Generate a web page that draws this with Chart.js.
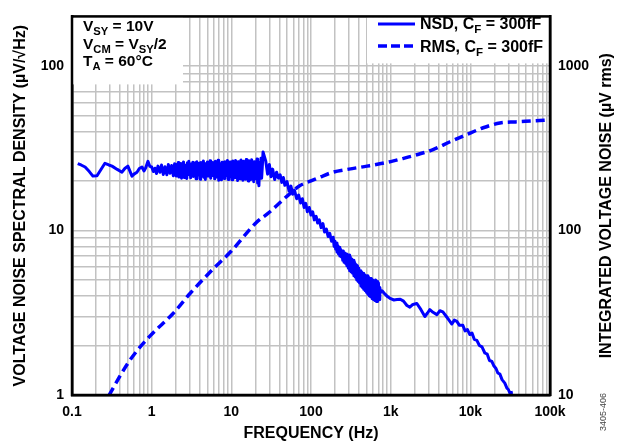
<!DOCTYPE html>
<html>
<head>
<meta charset="utf-8">
<script src="https://cdn.jsdelivr.net/npm/chart.js@4.4.1/dist/chart.umd.min.js"></script>
<style>
  html, body { margin: 0; padding: 0; background: #ffffff; }
  #wrap { width: 621px; height: 442px; }
</style>
</head>
<body>
<div id="wrap"><canvas id="c" width="621" height="442"></canvas></div>
<script>
// ---------------- DATA ----------------
const nsdFreq = [
  0.118, 0.13, 0.146, 0.165, 0.183, 0.206, 0.23, 0.259, 0.29, 0.318, 0.37, 0.424, 0.46, 0.503, 0.566, 0.6, 0.654, 0.7, 0.756, 0.8, 0.84, 0.898, 0.95,
  1.0, 1.05, 1.1, 1.15, 1.2, 1.27, 1.33, 1.4, 1.47, 1.55, 1.62, 1.7, 1.78, 1.87, 1.94,
  2.00, 2.04, 2.08, 2.12, 2.16, 2.20, 2.24, 2.28, 2.32, 2.37,
  2.41, 2.46, 2.51, 2.55, 2.60, 2.65, 2.70, 2.76, 2.81, 2.86,
  2.92, 2.98, 3.03, 3.09, 3.15, 3.21, 3.28, 3.34, 3.41, 3.47,
  3.54, 3.61, 3.68, 3.75, 3.82, 3.90, 3.97, 4.05, 4.13, 4.21,
  4.29, 4.37, 4.46, 4.55, 4.63, 4.72, 4.82, 4.91, 5.01, 5.10,
  5.20, 5.31, 5.41, 5.51, 5.62, 5.73, 5.84, 5.96, 6.07, 6.19,
  6.31, 6.44, 6.56, 6.69, 6.82, 6.95, 7.09, 7.23, 7.37, 7.51,
  7.66, 7.81, 7.96, 8.11, 8.27, 8.43, 8.60, 8.76, 8.94, 9.11,
  9.29, 9.47, 9.65, 9.84, 10.0, 10.2, 10.4, 10.6, 10.8, 11.1,
  11.3, 11.5, 11.7, 12.0, 12.2, 12.4, 12.7, 12.9, 13.2, 13.4,
  13.7, 14.0, 14.2, 14.5, 14.8, 15.1, 15.4, 15.7, 16.0, 16.3,
  16.6, 17.0, 17.3, 17.6, 18.0, 18.3, 18.7, 19.1, 19.4, 19.8,
  20.2, 20.6, 21.0, 21.4, 21.8, 22.2, 22.7, 23.1, 23.6, 24.0,
  24.5, 25.0,
  27, 28.5, 30, 31.5, 33, 35, 37, 39, 41, 43, 45, 47, 50, 53, 56, 59, 62, 66, 70, 74, 78, 82, 86, 90, 95, 100, 105, 110, 116, 121,
  127, 134, 141, 148, 156, 164, 172, 181, 190, 195,
  200, 204, 208, 212, 217, 221, 226, 230, 235, 240,
  245, 250, 255, 260, 266, 271, 277, 282, 288, 294,
  300, 306, 312, 319, 325, 332, 339, 346, 353, 360,
  367, 375, 383, 390, 398, 406, 415, 423, 432, 441,
  450, 459, 468, 478, 488, 498, 508, 518, 529, 540,
  551, 562, 574, 585, 597, 610, 622, 635, 648, 661,
  675, 688, 702, 717, 731, 746,
  780, 850, 920,
  1000, 1100, 1200, 1320, 1450, 1600, 1741, 1900, 2132, 2400, 2687, 2900, 3103, 3400, 3800, 4150, 4520, 5000, 5400, 5861,
  6300, 6773, 7300, 8055, 8600, 9200, 9860, 10500, 11200, 12070, 13000, 14000, 15210, 16300, 17400, 18620, 19800, 21000,
  22140, 23500, 25000, 27100, 28800, 30000, 31330, 34140
];
const nsdValue = [
  25.5, 25.0, 24.3, 22.8, 21.4, 21.5, 23.4, 25.6, 25.0, 24.6, 23.5, 22.6, 23.8, 24.6, 21.4, 22.0, 22.6, 23.8, 24.3, 23.0, 24.0, 26.3, 24.5,
  24.3, 22.8, 23.9, 22.2, 24.6, 22.6, 25.0, 21.9, 24.4, 21.8, 25.2, 22.3, 24.8, 21.5, 25.4,
  25.3, 21.4, 24.6, 22.0, 25.9, 21.1, 24.2, 22.8, 25.5, 20.8,
  24.7, 22.3, 26.1, 21.0, 25.0, 22.4, 24.1, 20.7, 25.8, 21.9,
  26.3, 22.1, 24.6, 20.9, 25.4, 22.0, 26.0, 21.3, 24.5, 22.6,
  25.8, 20.6, 26.2, 21.7, 24.4, 22.3, 25.6, 20.5, 25.9, 21.2,
  25.1, 22.5, 26.4, 21.0, 24.7, 20.4, 25.5, 22.0, 26.1, 21.4,
  24.9, 22.8, 26.5, 20.8, 25.3, 21.6, 25.9, 22.2, 25.0, 20.6,
  26.3, 21.1, 25.2, 21.9, 26.7, 20.2, 25.6, 21.0, 24.6, 20.3,
  26.0, 22.4, 25.4, 20.7, 26.2, 21.5, 24.8, 22.0, 26.6, 20.4,
  25.5, 21.2, 26.1, 22.6, 24.9, 20.3, 26.4, 21.8, 25.2, 20.9,
  26.6, 21.4, 25.0, 20.1, 26.2, 22.3, 25.7, 20.6, 26.8, 21.6,
  24.9, 20.2, 26.3, 22.1, 25.4, 20.5, 27.0, 21.3, 25.6, 20.0,
  26.5, 21.8, 25.1, 20.4, 26.9, 21.0, 25.7, 19.8, 26.2, 21.5,
  25.3, 20.6, 27.2, 19.4, 25.8, 18.7, 26.0, 21.4, 27.5, 20.8,
  24.6, 30.0,
  26.5, 22.0, 25.2, 21.2, 23.6, 20.4, 22.6, 20.8, 21.8, 19.6, 21.0, 18.8, 19.8, 17.4, 18.6, 16.6, 17.6, 15.6, 16.4, 14.7, 15.6, 13.8, 14.6, 13.0, 13.8, 12.4, 13.0, 11.6, 12.2, 11.1,
  11.6, 10.4, 11.0, 9.8, 10.2, 9.2, 9.6, 8.6, 9.1, 8.0,
  8.6, 7.7, 8.4, 7.4, 8.1, 7.2, 7.9, 7.0, 7.7, 6.9,
  7.5, 6.6, 7.5, 6.4, 7.3, 6.3, 7.2, 6.1, 7.1, 5.9,
  7.1, 5.7, 6.9, 5.6, 6.7, 5.5, 6.6, 5.3, 6.4, 5.2,
  6.2, 5.0, 6.1, 4.9, 5.9, 4.8, 5.7, 4.6, 5.6, 4.5,
  5.5, 4.4, 5.4, 4.3, 5.3, 4.2, 5.3, 4.1, 5.2, 4.0,
  5.1, 3.95, 5.1, 3.85, 5.0, 3.8, 4.9, 3.75, 5.0, 3.7,
  4.9, 3.7, 4.8, 3.8, 4.5, 4.2,
  4.3, 4.1, 3.95,
  3.85, 3.78, 3.8, 3.82, 3.72, 3.5, 3.42, 3.55, 3.6, 3.3, 3.0, 3.15, 3.3, 3.18, 3.08, 3.25, 3.2, 3.0, 2.85, 2.7,
  2.85, 2.8, 2.65, 2.65, 2.45, 2.5, 2.33, 2.38, 2.18, 2.15, 2.0, 1.96, 1.8, 1.77, 1.62, 1.6, 1.5, 1.45,
  1.36, 1.34, 1.24, 1.18, 1.1, 1.08, 1.03, 1.04
];
const rmsFreq = [0.29, 0.3, 0.53, 0.95, 1.87, 3.03, 5.9, 10, 20.3, 30, 54, 72, 100, 130, 188, 300, 505, 1000, 1315, 2000, 3400, 5560, 9000, 14500, 23500, 37000, 60000, 100000];
const rmsValue = [9.9, 10.2, 16.2, 22.8, 31.4, 41.4, 58.3, 75, 111, 129, 167, 187, 200, 211, 226, 236, 246, 262, 271, 286, 310, 346, 383, 421, 450, 457, 463, 470];

const seriesNames = ['NSD', 'RMS'];
const xTickValues = [0.1, 1, 10, 100, 1000, 10000, 100000];
const xTickLabels = ['0.1', '1', '10', '100', '1k', '10k', '100k'];
const yTickValues = [1, 10, 100];
const yTickLabels = ['1', '10', '100'];
const y1TickValues = [10, 100, 1000];
const y1TickLabels = ['10', '100', '1000'];

// ---------------- STYLE ----------------
const FONT = "'Liberation Sans', Arial, sans-serif";
const BLUE = '#0000ff';
const GRID = '#c2c2c2';

function minorTicks(min, max) {
  const out = [];
  for (let d = min; d < max; d *= 10) {
    for (let m = 1; m <= 9; m++) {
      const v = +(d * m).toPrecision(6);
      if (v >= min && v <= max) out.push({ value: v });
    }
  }
  out.push({ value: max });
  return out;
}
function labelFor(values, labels) {
  return (v) => {
    const i = values.findIndex(t => Math.abs(t - v) / t < 1e-6);
    return i >= 0 ? labels[i] : '';
  };
}

const decorPlugin = {
  id: 'decor',
  beforeDatasetsDraw(chart) {
    const ctx = chart.ctx;
    const a = chart.chartArea;
    ctx.save();
    ctx.fillStyle = '#ffffff';
    ctx.fillRect(a.left + 1, a.top + 1, 110, 67);
    ctx.fillRect(367, a.top + 1, a.right - 367 - 1, 46);

    function runs(x, y, parts, size) {
      const main = 'bold ' + size + 'px ' + FONT;
      const sub = 'bold ' + (size * 0.72).toFixed(1) + 'px ' + FONT;
      parts.forEach(p => {
        ctx.font = p[1] ? sub : main;
        ctx.fillText(p[0], x, y + (p[1] ? 4 : 0));
        x += ctx.measureText(p[0]).width;
      });
    }
    ctx.fillStyle = '#000';
    ctx.textBaseline = 'alphabetic';
    ctx.textAlign = 'left';
    runs(83, 31, [['V', 0], ['SY', 1], [' = 10V', 0]], 15.5);
    runs(83, 49, [['V', 0], ['CM', 1], [' = V', 0], ['SY', 1], ['/2', 0]], 15.5);
    runs(83, 66, [['T', 0], ['A', 1], [' = 60°C', 0]], 15.5);

    ctx.strokeStyle = BLUE;
    ctx.lineWidth = 3;
    ctx.beginPath(); ctx.moveTo(378, 24); ctx.lineTo(415, 24); ctx.stroke();
    ctx.setLineDash([9, 4]);
    ctx.lineWidth = 3.5;
    ctx.beginPath(); ctx.moveTo(378, 46); ctx.lineTo(416, 46); ctx.stroke();
    ctx.setLineDash([]);
    runs(420, 29, [[seriesNames[0] + ', C', 0], ['F', 1], [' = 300fF', 0]], 16);
    runs(420, 52, [[seriesNames[1] + ', C', 0], ['F', 1], [' = 300fF', 0]], 16);
    ctx.restore();
  },
  afterDraw(chart) {
    const ctx = chart.ctx;
    const a = chart.chartArea;
    ctx.save();
    ctx.strokeStyle = '#000';
    ctx.lineWidth = 2.5;
    ctx.strokeRect(a.left, a.top, a.right - a.left, a.bottom - a.top);

    ctx.fillStyle = '#000';
    ctx.font = 'bold 16px ' + FONT;
    ctx.textAlign = 'center';
    ctx.textBaseline = 'middle';
    ctx.translate(607, (a.top + a.bottom) / 2);
    ctx.rotate(-Math.PI / 2);
    ctx.fillText('INTEGRATED VOLTAGE NOISE (µV rms)', 0, 0);
    ctx.restore();

    ctx.save();
    ctx.fillStyle = '#444';
    ctx.font = '9px ' + FONT;
    ctx.textAlign = 'center';
    ctx.textBaseline = 'middle';
    ctx.translate(604, 412);
    ctx.rotate(-Math.PI / 2);
    ctx.fillText('3405-406', 0, 0);
    ctx.restore();
  }
};

const tickFont = { family: FONT, size: 14, weight: 'bold' };
const titleFont = { family: FONT, size: 16, weight: 'bold', lineHeight: 1 };

new Chart(document.getElementById('c'), {
  type: 'line',
  data: {
    datasets: [
      {
        label: seriesNames[0],
        data: nsdFreq.map((f, i) => ({ x: f, y: nsdValue[i] })),
        yAxisID: 'y',
        borderColor: BLUE,
        borderWidth: 3,
        borderJoinStyle: 'round',
        pointRadius: 0,
        tension: 0,
        order: 1
      },
      {
        label: seriesNames[1],
        data: rmsFreq.map((f, i) => ({ x: f, y: rmsValue[i] })),
        yAxisID: 'y1',
        borderColor: BLUE,
        borderWidth: 3.5,
        borderDash: [9, 5],
        pointRadius: 0,
        cubicInterpolationMode: 'monotone',
        order: 2
      }
    ]
  },
  options: {
    responsive: false,
    animation: false,
    events: [],
    layout: { padding: { top: 10, left: 0, right: 0, bottom: 0 } },
    plugins: { legend: { display: false }, tooltip: { enabled: false } },
    scales: {
      x: {
        type: 'logarithmic',
        position: 'bottom',
        min: 0.1, max: 100000,
        afterBuildTicks: (s) => { s.ticks = minorTicks(0.1, 100000); },
        afterFit: (s) => { s.height = 47; },
        grid: { color: GRID, lineWidth: 1.5, drawTicks: false },
        border: { display: true, color: '#000', width: 2.5 },
        ticks: { autoSkip: false, maxRotation: 0, padding: 9, color: '#000', font: tickFont,
                 callback: labelFor(xTickValues, xTickLabels) },
        title: { display: true, text: 'FREQUENCY (Hz)', color: '#000', font: titleFont, padding: { top: 0, bottom: 0 } }
      },
      y: {
        type: 'logarithmic',
        position: 'left',
        min: 1, max: 200,
        afterBuildTicks: (s) => { s.ticks = minorTicks(1, 200).filter(t => t.value <= 200); },
        afterFit: (s) => { s.width = 72; },
        grid: { color: GRID, lineWidth: 1.5, drawTicks: false },
        border: { display: true, color: '#000', width: 2.5 },
        ticks: { autoSkip: false, padding: 8, color: '#000', font: tickFont,
                 callback: labelFor(yTickValues, yTickLabels) },
        title: { display: true, text: 'VOLTAGE NOISE SPECTRAL DENSITY (µV/√Hz)', color: '#000', font: titleFont, padding: { top: 13, bottom: 0 } }
      },
      y1: {
        type: 'logarithmic',
        position: 'right',
        min: 10, max: 2000,
        afterBuildTicks: (s) => { s.ticks = y1TickValues.map(v => ({ value: v })); },
        afterFit: (s) => { s.width = 71; },
        grid: { display: false, drawTicks: false },
        border: { display: true, color: '#000', width: 2.5 },
        ticks: { autoSkip: false, padding: 8, color: '#000', font: tickFont,
                 callback: labelFor(y1TickValues, y1TickLabels) }
      }
    }
  },
  plugins: [decorPlugin]
});
</script>
</body>
</html>
